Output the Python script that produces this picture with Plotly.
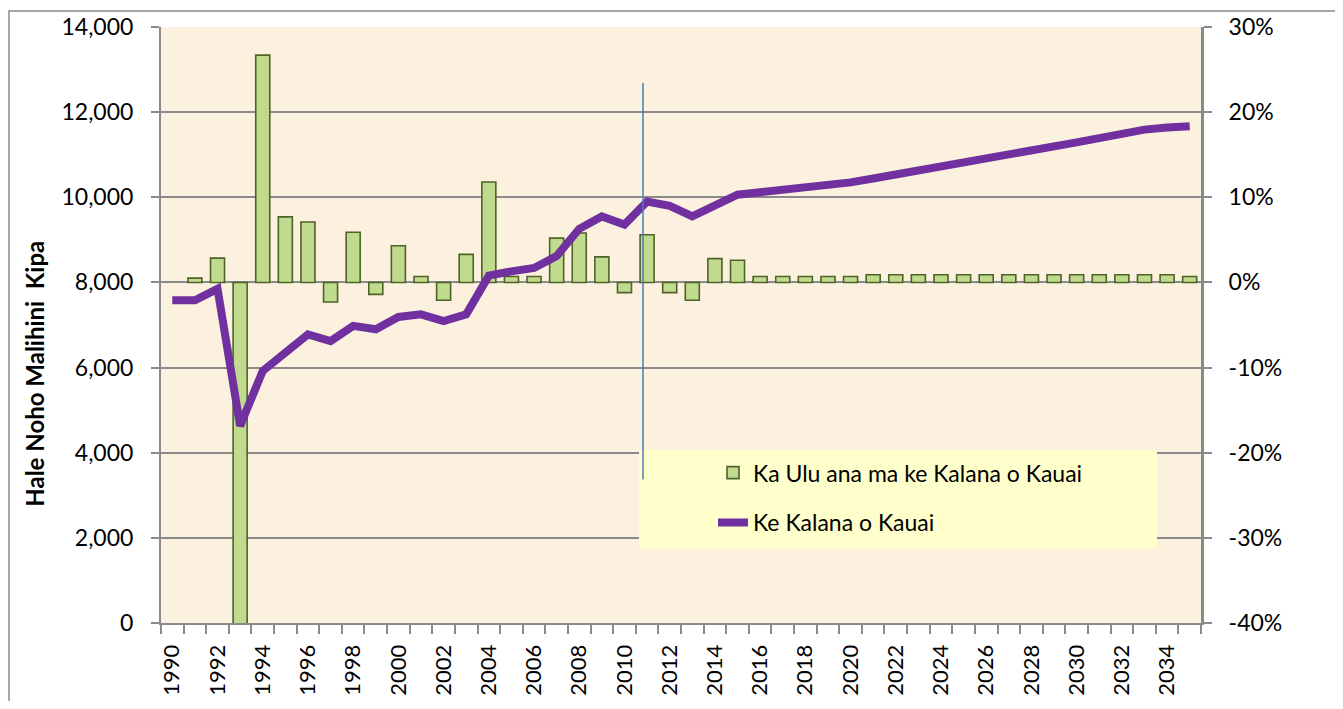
import plotly.graph_objects as go

years = list(range(1990, 2036))

growth_pct = [None, 0.005, 0.0285, -0.405, 0.267, 0.077, 0.071, -0.023, 0.059, -0.014,
              0.043, 0.007, -0.021, 0.033, 0.118, 0.007, 0.007, 0.052, 0.058, 0.030,
              -0.012, 0.056, -0.012, -0.021, 0.028, 0.026, 0.007, 0.007, 0.007, 0.007,
              0.007, 0.009, 0.009, 0.009, 0.009, 0.009, 0.009, 0.009, 0.009, 0.009,
              0.009, 0.009, 0.009, 0.009, 0.009, 0.007]

units = [7580, 7580, 7850, 4630, 5920, 6360, 6780, 6620, 6980, 6900,
         7190, 7250, 7090, 7250, 8160, 8260, 8340, 8620, 9260, 9550,
         9360, 9900, 9800, 9550, 9810, 10060, 10120, 10170, 10260, 10310,
         10350, 10440, 10530, 10630, 10730, 10810, 10900, 11000, 11080, 11180,
         11290, 11390, 11490, 11590, 11640, 11670]

tick_years = list(range(1990, 2035, 2))
tick_labels = [str(y) for y in tick_years]

pct_ticks = [-0.4, -0.3, -0.2, -0.1, 0.0, 0.1, 0.2, 0.3]
pct_labels = ["-40%", "-30%", "-20%", "-10%", "0%", "10%", "20%", "30%"]

bar_name = "Ka Ulu ana ma ke Kalana o Kauai"
line_name = "Ke Kalana o Kauai"
y_title = "Hale Noho Malihini\u00a0 Kipa"

FONT = "Lato"
FS = 23
GRAY = "#8a8a8a"

# page body has an 8px margin; plot area in figure coords
W, H = 1327, 693
PL, PR, PT, PB = 153, 1193, 19, 615.5
PW, PH = PR - PL, PB - PT


def px(xs):
    return (xs - 8 - PL) / PW


def py(ys):
    return (PB - (ys - 8)) / PH


fig = go.Figure()
fig.add_trace(go.Bar(
    x=years, y=growth_pct, name=bar_name, yaxis="y", width=0.62,
    marker=dict(color="#c0db8e", line=dict(color="#4f6228", width=1.6)),
    cliponaxis=False, legendgroup="a",
))
fig.add_trace(go.Scatter(
    x=years, y=units, name=line_name, yaxis="y2", mode="lines",
    line=dict(color="#7030a0", width=8), legendgroup="b",
))

fig.update_layout(
    width=W, height=H,
    margin=dict(l=PL, r=W - PR, t=PT, b=H - PB, autoexpand=False),
    paper_bgcolor="white",
    plot_bgcolor="#fcf1de",
    font=dict(family=FONT, size=FS, color="black"),
    xaxis=dict(
        range=[1989.5, 2035.5], tickmode="array", tickvals=tick_years, ticktext=tick_labels,
        tickangle=-90, ticks="outside", ticklen=9, tickcolor="rgba(0,0,0,0)",
        showline=True, linecolor=GRAY, linewidth=2, showgrid=False, zeroline=False,
        minor=dict(tick0=1989.5, dtick=1, ticks="outside", ticklen=9, tickcolor=GRAY, tickwidth=2),
        tickfont=dict(family=FONT, size=22), automargin=False, ticklabelstandoff=2,
    ),
    yaxis=dict(
        range=[-0.4, 0.3], tickmode="array", tickvals=pct_ticks, ticktext=pct_labels,
        side="right", showgrid=True, gridcolor=GRAY, gridwidth=1.5, zeroline=False,
        showline=True, linecolor=GRAY, linewidth=3, ticks="outside", ticklen=8,
        tickcolor=GRAY, tickwidth=2, ticklabelstandoff=12, automargin=False,
    ),
    yaxis2=dict(
        range=[0, 14000], dtick=2000, tickformat=",", side="left", overlaying="y",
        showgrid=False, zeroline=False, showline=True, linecolor=GRAY, linewidth=2,
        ticks="outside", ticklen=8, tickcolor=GRAY, tickwidth=2, ticklabelstandoff=13,
        automargin=False,
    ),
    legend=dict(
        x=px(713), xanchor="left", y=py(451.5), yanchor="top",
        bgcolor="rgba(0,0,0,0)", traceorder="grouped", tracegroupgap=17,
        font=dict(family=FONT, size=FS),
    ),
    showlegend=True,
)

# legend background box
fig.add_shape(type="rect", xref="paper", yref="paper",
              x0=px(639), x1=px(1157), y0=py(549), y1=py(450),
              fillcolor="#ffffcc", line=dict(width=0), layer="above")
# vertical marker line
fig.add_shape(type="line", xref="x", yref="paper",
              x0=2010.82, x1=2010.82, y0=py(480), y1=py(83),
              line=dict(color="#4a7ebb", width=1.5), layer="above")
# chart border
fig.add_shape(type="rect", xref="paper", yref="paper",
              x0=px(9), x1=px(1400), y0=py(760), y1=py(11),
              line=dict(color=GRAY, width=1.5), fillcolor="rgba(0,0,0,0)", layer="below")

fig.add_annotation(text=y_title, xref="paper", yref="paper",
                   x=px(35), y=py(374), xanchor="center", yanchor="middle",
                   textangle=-90, showarrow=False,
                   font=dict(family=FONT, size=24, color="black", weight="bold"))

fig.write_html("out.html")
